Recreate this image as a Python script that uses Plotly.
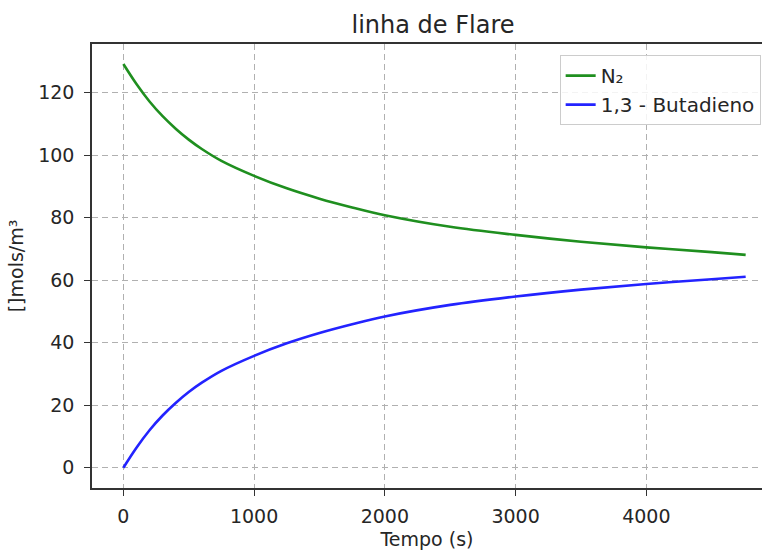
import plotly.graph_objects as go

tempo = [0, 100, 200, 300, 400, 500, 600, 750, 1000, 1250, 1500, 1750, 2000,
         2500, 3000, 3500, 4000, 4500, 4760]
n2 = [129.2, 122.8, 117.2, 112.5, 108.5, 105.0, 102.0, 98.2, 93.4, 89.4,
      86.1, 83.3, 80.8, 77.1, 74.5, 72.3, 70.5, 69.0, 68.1]
butadieno = [0.0, 6.4, 12.0, 16.7, 20.7, 24.2, 27.2, 31.0, 35.8, 39.8,
             43.1, 45.9, 48.4, 52.1, 54.8, 57.0, 58.8, 60.3, 61.1]

x_ticks = [0, 1000, 2000, 3000, 4000]
y_ticks = [0, 20, 40, 60, 80, 100, 120]

FONT = "DejaVu Sans"
TXT = "#262626"

fig = go.Figure()
fig.add_trace(go.Scatter(x=tempo, y=n2, mode="lines", name="N₂",
                         line=dict(color="#1f8f1f", width=2.6, shape="spline")))
fig.add_trace(go.Scatter(x=tempo, y=butadieno, mode="lines", name="1,3 - Butadieno",
                         line=dict(color="#2323ff", width=2.6, shape="spline")))

grid = dict(showgrid=True, gridcolor="#b0b0b0", gridwidth=1, griddash="6px,4px")

fig.update_layout(
    width=762, height=551,
    margin=dict(l=92, r=0, t=44, b=63),
    paper_bgcolor="white", plot_bgcolor="white",
    font=dict(family=FONT, size=19, color=TXT),
    title=dict(text="linha de Flare", x=0.509, xref="paper", xanchor="center",
               y=1 - 25 / 551, yref="container", yanchor="middle",
               font=dict(size=24, color=TXT)),
    showlegend=True,
    legend=dict(x=0.998, xanchor="right", y=0.975, yanchor="top",
                bgcolor="rgba(255,255,255,0.85)", bordercolor="#cccccc", borderwidth=1,
                font=dict(size=20, color=TXT), tracegroupgap=0),
    xaxis=dict(range=[-240, 4885], tickvals=x_ticks, ticks="outside", ticklen=6,
               tickcolor="#333", showline=True, linecolor="#333", linewidth=1.5,
               mirror=True, zeroline=False, ticklabelstandoff=4,
               title=dict(text="Tempo (s)", standoff=7, font=dict(size=19)), **grid),
    yaxis=dict(range=[-6.5, 135.6], tickvals=y_ticks, ticks="outside", ticklen=6,
               tickcolor="#333", showline=True, linecolor="#333", linewidth=1.5,
               mirror=False, zeroline=False, ticklabelstandoff=6,
               title=dict(text="[]mols/m³", standoff=10, font=dict(size=19)), **grid),
)

fig.write_html("out.html")
